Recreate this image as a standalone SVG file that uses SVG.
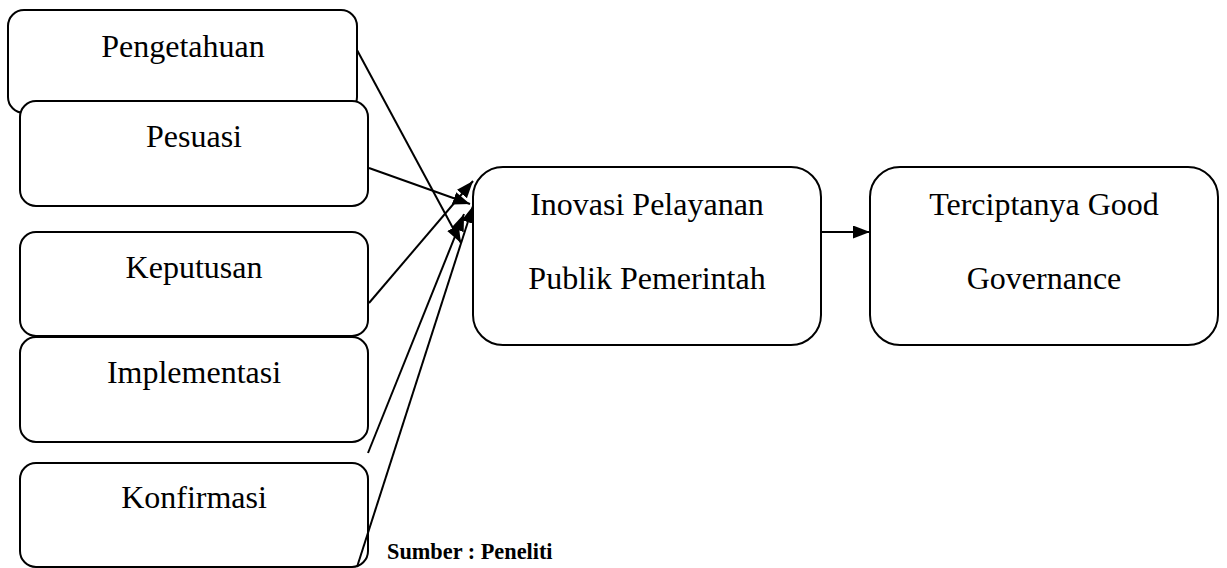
<svg xmlns="http://www.w3.org/2000/svg" width="1227" height="568" viewBox="0 0 1227 568">
  <style>
    .box { fill: #fff; stroke: #000; stroke-width: 2; }
    .lbl { font-family: "Liberation Serif", "Times New Roman", serif; font-size: 32px; fill: #000; text-anchor: middle; }
    .src { font-family: "Liberation Serif", "Times New Roman", serif; font-size: 22.3px; font-weight: bold; fill: #000; }
    .con { stroke: #000; stroke-width: 2; fill: none; marker-end: url(#arr); }
  </style>
  <defs>
    <marker id="arr" markerUnits="userSpaceOnUse" markerWidth="18" markerHeight="14" refX="17" refY="6.5" orient="auto">
      <path d="M0,0 L17,6.5 L0,13 Z" fill="#000"/>
    </marker>
  </defs>
  <rect width="1227" height="568" fill="#fff"/>

  <g id="node-pengetahuan">
    <rect class="box" x="8" y="10" width="349" height="103" rx="16" ry="16"/>
    <text class="lbl" x="183" y="57">Pengetahuan</text>
  </g>
  <g id="node-pesuasi">
    <rect class="box" x="20" y="101" width="348" height="105" rx="16" ry="16"/>
    <text class="lbl" x="194" y="147">Pesuasi</text>
  </g>
  <g id="node-keputusan">
    <rect class="box" x="20" y="232" width="348" height="104" rx="16" ry="16"/>
    <text class="lbl" x="194" y="278">Keputusan</text>
  </g>
  <g id="node-implementasi">
    <rect class="box" x="20" y="337" width="348" height="105" rx="16" ry="16"/>
    <text class="lbl" x="194" y="383">Implementasi</text>
  </g>
  <g id="node-konfirmasi">
    <rect class="box" x="20" y="463" width="348" height="104" rx="16" ry="16"/>
    <text class="lbl" x="194" y="508">Konfirmasi</text>
  </g>
  <g id="node-inovasi">
    <rect class="box" x="473" y="167" width="348" height="178" rx="30" ry="30"/>
    <text class="lbl" x="647" y="215">Inovasi Pelayanan</text>
    <text class="lbl" x="647" y="289">Publik Pemerintah</text>
  </g>
  <g id="node-good-governance">
    <rect class="box" x="870" y="167" width="348" height="178" rx="30" ry="30"/>
    <text class="lbl" x="1044" y="215">Terciptanya Good</text>
    <text class="lbl" x="1044" y="289">Governance</text>
  </g>

  <g id="connectors">
    <line class="con" x1="357" y1="50" x2="461" y2="243"/>
    <line class="con" x1="369" y1="168" x2="470" y2="204"/>
    <line class="con" x1="369" y1="303" x2="473" y2="181"/>
    <line class="con" x1="368" y1="453" x2="464" y2="214"/>
    <line class="con" x1="357" y1="567" x2="473" y2="206"/>
    <line class="con" x1="821" y1="232" x2="870" y2="232"/>
  </g>

  <text class="src" x="387" y="559">Sumber : Peneliti</text>
</svg>
